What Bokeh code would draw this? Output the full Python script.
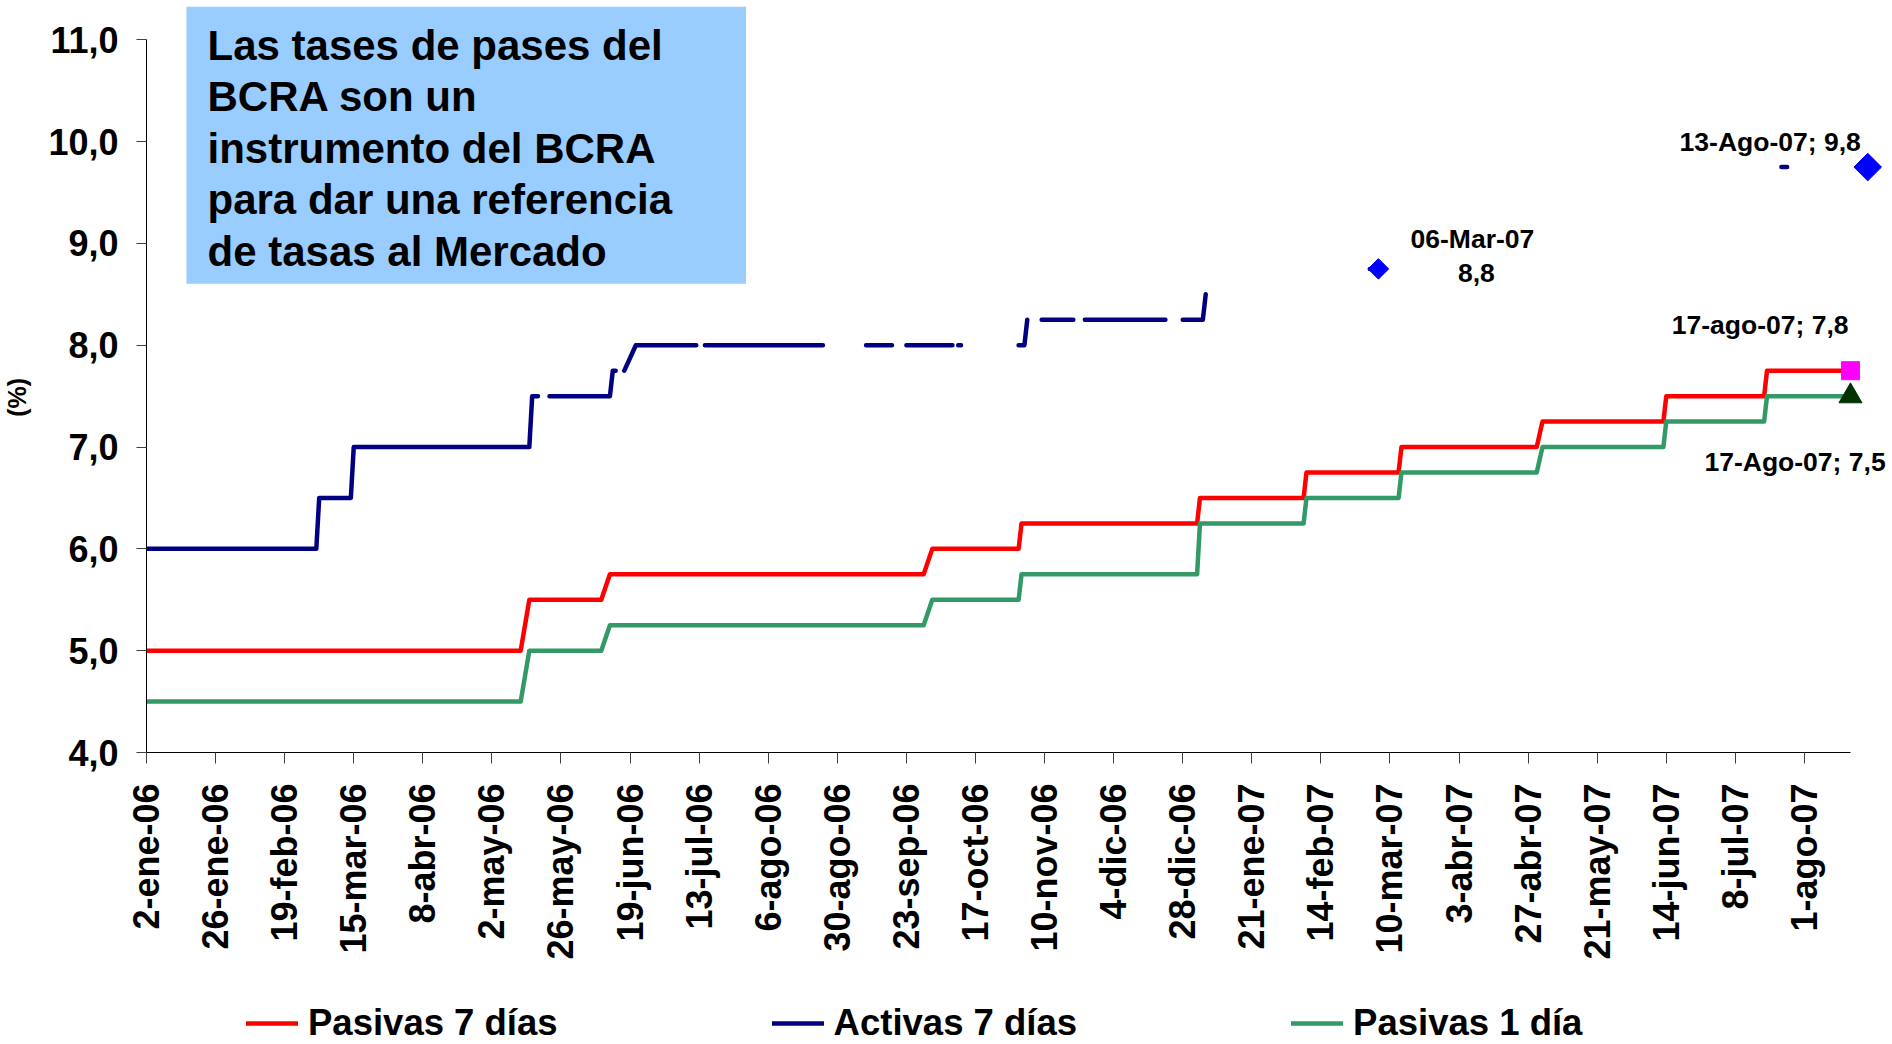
import numpy as np
import pandas as pd
from bokeh.plotting import figure
from bokeh.layouts import column
from bokeh.models import (ColumnDataSource, Range1d, FixedTicker, Legend,
                          LegendItem, Label)
from bokeh.core.properties import value
from bokeh.embed import file_html
from bokeh.resources import INLINE

# --- data -------------------------------------------------------------
# Pasivas 7 días and Pasivas 1 día change on the same dates
pasivas_dates = ["2006-01-02", "2006-05-12", "2006-05-15", "2006-06-09",
                 "2006-06-12", "2006-09-29", "2006-10-02", "2006-11-01",
                 "2006-11-02", "2007-01-02", "2007-01-03", "2007-02-08",
                 "2007-02-09", "2007-03-13", "2007-03-14", "2007-04-30",
                 "2007-05-02", "2007-06-13", "2007-06-14", "2007-07-18",
                 "2007-07-19", "2007-08-17"]
pasivas_7d = [5.0, 5.0, 5.5, 5.5, 5.75, 5.75, 6.0, 6.0, 6.25, 6.25, 6.5,
              6.5, 6.75, 6.75, 7.0, 7.0, 7.25, 7.25, 7.5, 7.5, 7.75, 7.75]
pasivas_1d = [4.5, 4.5, 5.0, 5.0, 5.25, 5.25, 5.5, 5.5, 5.75, 5.75, 6.25,
              6.25, 6.5, 6.5, 6.75, 6.75, 7.0, 7.0, 7.25, 7.25, 7.5, 7.5]

# Activas 7 días: None marks days without a published rate
activas_dates = ["2006-01-02", "2006-03-02", "2006-03-03", "2006-03-14",
                 "2006-03-15", "2006-05-15", "2006-05-16", "2006-05-18",
                 "2006-05-19", "2006-05-22", "2006-06-12", "2006-06-13",
                 "2006-06-14", "2006-06-15", "2006-06-17", "2006-06-21",
                 "2006-07-12", "2006-07-13", "2006-07-15", "2006-08-25",
                 "2006-08-28", "2006-09-09", "2006-09-18", "2006-09-20",
                 "2006-09-23", "2006-10-09", "2006-10-10", "2006-10-11",
                 "2006-10-12", "2006-10-16", "2006-11-01", "2006-11-03",
                 "2006-11-04", "2006-11-06", "2006-11-09", "2006-11-20",
                 "2006-11-22", "2006-11-24", "2006-12-22", "2006-12-26",
                 "2006-12-28", "2007-01-04", "2007-01-05", "2007-01-08",
                 "2007-03-03", "2007-03-06", "2007-03-08", "2007-07-24",
                 "2007-07-26"]
activas_7d = [6.0, 6.0, 6.5, 6.5,
              7.0, 7.0, 7.5, 7.5,
              None, 7.5, 7.5, 7.75,
              7.75, None, 7.75, 8.0,
              8.0, None, 8.0, 8.0,
              None, 8.0, 8.0, None,
              8.0, 8.0, None, 8.0,
              8.0, None, 8.0, 8.0,
              8.25, None, 8.25, 8.25,
              None, 8.25, 8.25, None,
              8.25, 8.25, 8.5, None,
              8.75, 8.75, None, 9.75,
              9.75]

# highlighted points
activas_mark_dates = ["2007-03-06", "2007-08-23"]
activas_mark_vals = [8.75, 9.75]
activas_mark_tags = ["06-Mar-07", "13-Ago-07"]
last_date = "2007-08-17"
last_p7 = 7.75
last_p1 = 7.5

x_tick_labels = ["2-ene-06", "26-ene-06", "19-feb-06", "15-mar-06", "8-abr-06",
                 "2-may-06", "26-may-06", "19-jun-06", "13-jul-06", "6-ago-06",
                 "30-ago-06", "23-sep-06", "17-oct-06", "10-nov-06", "4-dic-06",
                 "28-dic-06", "21-ene-07", "14-feb-07", "10-mar-07", "3-abr-07",
                 "27-abr-07", "21-may-07", "14-jun-07", "8-jul-07", "1-ago-07"]
y_ticks = [4, 5, 6, 7, 8, 9, 10, 11]

note_text = ("Las tases de pases del\nBCRA son un\ninstrumento del BCRA\n"
             "para dar una referencia\nde tasas al Mercado")

# --- helpers ----------------------------------------------------------
ORIGIN = pd.Timestamp("2006-01-02")


def days(dates):
    return [(pd.Timestamp(d) - ORIGIN).days for d in dates]


def coma(v):
    return f"{v:.1f}".replace(".", ",")


def nan_list(vals):
    return [np.nan if v is None else v for v in vals]


FONT = "Liberation Sans"
RED = "#FF0000"
NAVY = "#000080"
GREEN = "#339966"
LINE_KW = dict(line_width=4.5, line_cap="round", line_join="round")

tick_days = days(pd.date_range("2006-01-02", periods=len(x_tick_labels), freq="24D"))
end_day = days([last_date])[0]

# --- main figure --------------------------------------------------------
# the frame reaches the top edge so the note box is not clipped; the
# value axis itself stops at 11
p = figure(width=1892, height=1000, output_backend="svg", toolbar_location=None,
           x_range=Range1d(0, 606.6), y_range=Range1d(4, 11.386),
           min_border_left=146, min_border_right=0, min_border_top=0,
           min_border_bottom=248)
p.outline_line_color = None
p.grid.grid_line_color = None
p.background_fill_color = "white"
p.border_fill_color = "white"

src_p = ColumnDataSource(dict(x=days(pasivas_dates), p7=pasivas_7d, p1=pasivas_1d))
src_a = ColumnDataSource(dict(x=days(activas_dates), y=nan_list(activas_7d)))

p.line("x", "p7", source=src_p, line_color=RED, **LINE_KW)
p.line("x", "y", source=src_a, line_color=NAVY, **LINE_KW)
p.line("x", "p1", source=src_p, line_color=GREEN, **LINE_KW)

# highlighted markers
mk_x = days(activas_mark_dates)
p.scatter(mk_x[:1], activas_mark_vals[:1], marker="square", angle=np.pi / 4,
          size=14.5, color="#0000FF")
p.scatter(mk_x[1:], activas_mark_vals[1:], marker="square", angle=np.pi / 4,
          size=19.5, color="#0000FF")
p.scatter([end_day], [last_p7], marker="square", size=18, color="#FF00FF")
p.scatter([end_day], [last_p1], marker="triangle", size=23, color="#003300")

# point labels
txt_kw = dict(text_font=value(FONT), text_font_style="bold",
              text_font_size="26.5px", text_color="black",
              text_baseline="alphabetic")
center_src = ColumnDataSource(dict(
    x=[mk_x[0], mk_x[0]], y=[activas_mark_vals[0]] * 2,
    t=[activas_mark_tags[0], coma(activas_mark_vals[0])],
    dx=[94, 98], dy=[-30, 4]))
p.text("x", "y", text="t", x_offset="dx", y_offset="dy", source=center_src,
       text_align="center", **txt_kw)
right_src = ColumnDataSource(dict(
    x=[mk_x[1], end_day], y=[activas_mark_vals[1], last_p7],
    t=[f"{activas_mark_tags[1]}; {coma(activas_mark_vals[1])}",
       f"17-ago-07; {coma(last_p7)}"],
    dx=[-7, -2], dy=[-25, -46]))
p.text("x", "y", text="t", x_offset="dx", y_offset="dy", source=right_src,
       text_align="right", **txt_kw)
left_src = ColumnDataSource(dict(
    x=[end_day], y=[last_p1], t=[f"17-Ago-07; {coma(last_p1)}"],
    dx=[-146], dy=[66]))
p.text("x", "y", text="t", x_offset="dx", y_offset="dy", source=left_src,
       text_align="left", **txt_kw)

# --- axes -------------------------------------------------------------
xa = p.xaxis[0]
xa.ticker = FixedTicker(ticks=tick_days)
xa.major_label_overrides = {d: lab for d, lab in zip(tick_days, x_tick_labels)}
xa.major_label_orientation = np.pi / 2
xa.major_label_text_font = FONT
xa.major_label_text_font_style = "bold"
xa.major_label_text_font_size = "36px"
xa.major_label_text_color = "black"
xa.major_label_standoff = 20
xa.major_tick_out = 11
xa.major_tick_in = 0
xa.minor_tick_line_color = None
xa.axis_line_color = "black"
xa.major_tick_line_color = "#404040"
xa.bounds = (0, end_day)

ya = p.yaxis[0]
ya.ticker = FixedTicker(ticks=y_ticks)
ya.major_label_overrides = {v: coma(v) for v in y_ticks}
ya.major_label_text_font = FONT
ya.major_label_text_font_style = "bold"
ya.major_label_text_font_size = "36px"
ya.major_label_text_color = "black"
ya.major_label_standoff = 18
ya.major_tick_out = 10
ya.major_tick_in = 0
ya.minor_tick_line_color = None
ya.axis_line_color = "black"
ya.major_tick_line_color = "#404040"
ya.bounds = (4, 11)
# trailing no-break spaces keep the title centred on the 4-11 span
ya.axis_label = "(%)" + "\u00a0" * 6
ya.axis_label_text_font = FONT
ya.axis_label_text_font_style = "bold"
ya.axis_label_text_font_size = "25px"
ya.axis_label_text_color = "black"
ya.axis_label_standoff = 14

# --- text box ---------------------------------------------------------
note = Label(x=40, y=745.7, x_units="screen", y_units="screen", text=note_text,
             text_font=FONT, text_font_style="bold", text_font_size="42px",
             text_line_height=1.095, text_color="black",
             text_align="left", text_baseline="top",
             background_fill_color="#99CCFF",
             padding=dict(left=21, right=74, top=15, bottom=9))
p.add_layout(note)

# --- legend strip -------------------------------------------------------
leg = figure(width=1892, height=44, output_backend="svg", toolbar_location=None,
             x_range=Range1d(0, 1), y_range=Range1d(0, 1),
             x_axis_location=None, y_axis_location=None, min_border=0)
leg.outline_line_color = None
leg.grid.grid_line_color = None
# keys for the legend: same styles as the series, placed outside the strip's range
k_p7 = leg.line([5, 6], [5, 5], line_color=RED, **LINE_KW)
k_a7 = leg.line([5, 6], [5, 5], line_color=NAVY, **LINE_KW)
k_p1 = leg.line([5, 6], [5, 5], line_color=GREEN, **LINE_KW)
legend = Legend(items=[LegendItem(label="Pasivas 7 días", renderers=[k_p7]),
                       LegendItem(label="Activas 7 días", renderers=[k_a7]),
                       LegendItem(label="Pasivas 1 día", renderers=[k_p1])],
                orientation="horizontal", location=(100, 0),
                glyph_width=52, glyph_height=20, label_standoff=10, spacing=214,
                padding=0, margin=0, border_line_color=None,
                background_fill_alpha=0,
                label_text_font=FONT, label_text_font_style="bold",
                label_text_font_size="36.5px", label_text_color="black")
leg.add_layout(legend)

page = column(p, leg, spacing=0)
open("out.html", "w").write(file_html(page, INLINE))
